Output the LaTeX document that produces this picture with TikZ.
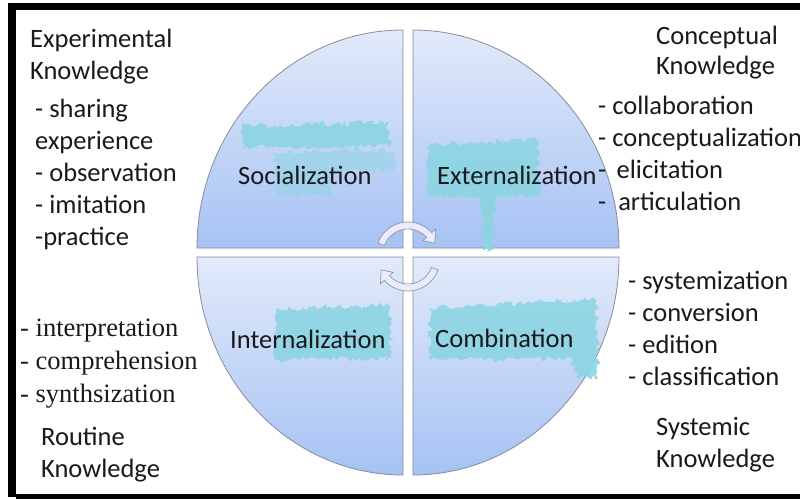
\documentclass[tikz,border=0pt]{standalone}
\usepackage{fontspec}
\setmainfont{Carlito}
\newfontfamily\timesfont{Liberation Serif}
\usetikzlibrary{decorations.pathmorphing}

\definecolor{qtop}{RGB}{226,234,250}
\definecolor{qbot}{RGB}{166,194,244}
\definecolor{qedge}{RGB}{135,140,150}
\definecolor{scrib}{RGB}{140,213,226}
\definecolor{inktext}{RGB}{25,25,30}

\tikzset{
  quad/.style={draw=qedge, line width=0.8pt, top color=qtop, bottom color=qbot},
  turn/.style={draw=qedge!90, line width=0.7pt, fill=white!92!blue},
  smudge/.style={fill=scrib, opacity=0.9, decorate,
    decoration={random steps, segment length=2.5pt, amplitude=3pt}},
  txt/.style={anchor=base west, inner sep=0pt, text=inktext,
    font=\fontsize{26.5}{32}\selectfont},
  lst/.style={txt, align=left},
}

\begin{document}
\begin{tikzpicture}[x=1pt, y=1pt]
    \useasboundingbox (0,0) rectangle (800,-500);
    \fill[white] (0,0) rectangle (800,-500);

    % frame
    \fill[black] (8,-3) rectangle (800,-10);
    \fill[black] (8,-3) rectangle (16,-497);
    \fill[black] (16,-494) rectangle (800,-499);

    % the four quarters
    \path[quad] (403,-248) -- (197,-248) arc[start angle=180, end angle=90, x radius=206pt, y radius=218pt] -- cycle;
    \path[quad] (413,-248) -- (413,-30) arc[start angle=90, end angle=0, x radius=206pt, y radius=218pt] -- cycle;
    \path[quad] (403,-257) -- (197,-257) arc[start angle=180, end angle=270, x radius=206pt, y radius=218pt] -- cycle;
    \path[quad] (413,-257) -- (619,-257) arc[start angle=0, end angle=-90, x radius=206pt, y radius=218pt] -- cycle;

    % turning arrows
    \begin{scope}[shift={(408,-254)}]
        \path[turn] (160:32) arc[start angle=160, end angle=42, radius=32pt]
            -- (42:37) -- (22:29) -- (42:20) -- (42:25)
            arc[start angle=42, end angle=160, radius=25pt] -- cycle;
    \end{scope}
    \begin{scope}[shift={(408,-259)}, rotate=180]
        \path[turn] (160:32) arc[start angle=160, end angle=42, radius=32pt]
            -- (42:37) -- (22:29) -- (42:20) -- (42:25)
            arc[start angle=42, end angle=160, radius=25pt] -- cycle;
    \end{scope}

    % smudges over the quarter labels
    \path[smudge] (242,-126) -- (386,-122) -- (390,-146) -- (243,-147) -- cycle;
    \path[smudge, opacity=0.55] (276,-152) -- (396,-150) -- (396,-170) -- (332,-172) -- (330,-196) -- (276,-195) -- cycle;
    \path[smudge] (427,-145) -- (537,-140) -- (540,-195) -- (497,-197) -- (492,-250) -- (484,-250) -- (480,-197) -- (427,-197) -- cycle;
    \path[smudge] (276,-309) -- (390,-305) -- (392,-358) -- (276,-360) -- cycle;
    \path[smudge] (430,-308) -- (596,-300) -- (598,-378) -- (576,-378) -- (572,-358) -- (430,-360) -- cycle;

    % quarter labels
    \node[txt] (social) at (238,-184) {Socialization};
    \node[txt] (extern) at (437,-184) {Externalization};
    \node[txt] (intern) at (230,-348) {Internalization};
    \node[txt] (combin) at (435,-347) {Combination};

    % experimental knowledge
    \node[lst] (expHead) at (30,-80) {Experimental\\Knowledge};
    \node[lst] (expList) at (35,-245) {- sharing\\experience\\- observation\\- imitation\\-practice};

    % conceptual knowledge
    \node[lst, font=\fontsize{26.5}{30}\selectfont] (conHead) at (656,-75) {Conceptual\\Knowledge};
    \node[lst] (conList) at (598,-210) {- collaboration\\- conceptualization\\- \,elicitation\\-~~articulation};

    % routine knowledge
    \node[lst, font=\timesfont\fontsize{26.5}{33}\selectfont] (rouList) at (20,-402) {- interpretation\\- comprehension\\- synthsization};
    \node[lst] (rouHead) at (41,-477) {Routine\\Knowledge};

    % systemic knowledge
    \node[lst] (sysList) at (628,-385) {- systemization\\- conversion\\- edition\\- classification};
    \node[lst] (sysHead) at (656,-467) {Systemic\\Knowledge};
\end{tikzpicture}
\end{document}
